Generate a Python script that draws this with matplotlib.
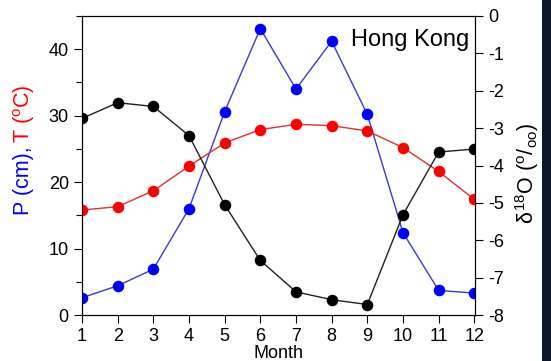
import matplotlib.pyplot as plt
from matplotlib.patches import Rectangle
from matplotlib.ticker import MultipleLocator

plt.rcParams['font.family'] = ['Liberation Sans', 'DejaVu Sans']
plt.rcParams['mathtext.fontset'] = 'custom'
plt.rcParams['mathtext.rm'] = 'Liberation Sans'
plt.rcParams['mathtext.it'] = 'Liberation Sans'
plt.rcParams['axes.unicode_minus'] = False

# Monthly climate record, Hong Kong
months = [1, 2, 3, 4, 5, 6, 7, 8, 9, 10, 11, 12]
precip_cm = [2.6, 4.4, 6.9, 16.0, 30.6, 43.1, 34.0, 41.2, 30.2, 12.4, 3.7, 3.3]
temp_c = [15.8, 16.3, 18.7, 22.4, 25.9, 27.9, 28.7, 28.5, 27.7, 25.2, 21.6, 17.4]
d18o = [-2.74, -2.32, -2.42, -3.20, -5.05, -6.54, -7.38, -7.59, -7.72, -5.32, -3.64, -3.56]
station = "Hong Kong"

fig = plt.figure(figsize=(5.51, 3.61), dpi=100)
ax = fig.add_axes([82 / 551, 1 - 315 / 361, (475 - 82) / 551, (315 - 16) / 361])

ms = 7.3
ax.plot(months, precip_cm, color='#3a3ad0', lw=1.0, marker='o', ms=ms,
        mfc='#0000ff', mec='#0000ff', zorder=3)
ax.plot(months, temp_c, color='#e03030', lw=1.0, marker='o', ms=ms,
        mfc='#ff0000', mec='#ff0000', zorder=3)
ax.set_xlim(1, 12.02)
ax.set_ylim(0, 45)
ax.set_xticks(months)
ax.yaxis.set_major_locator(MultipleLocator(10))
ax.yaxis.set_minor_locator(MultipleLocator(5))
ax.tick_params(axis='both', which='major', labelsize=13, direction='out', length=6, width=0.8)
ax.tick_params(axis='y', which='minor', direction='out', length=4, width=0.8)
ax.set_xlabel("Month", fontsize=13, labelpad=0)

ax2 = ax.twinx()
ax2.plot(months, d18o, color='#202020', lw=1.0, marker='o', ms=ms,
         mfc='black', mec='black', zorder=3)
ax2.set_ylim(-8, 0)
ax2.yaxis.set_major_locator(MultipleLocator(1))
ax2.tick_params(axis='y', labelsize=13, direction='out', length=6, width=0.8)

ax.text(0.985, 0.955, station, transform=ax.transAxes, ha='right', va='top',
        fontsize=17)

# two-colour left axis label
fig.text(24 / 551, 1 - 215 / 361, "P (cm),", color='#0000ff', fontsize=15.5,
         rotation=90, ha='center', va='bottom')
fig.text(24 / 551, 1 - 143 / 361, r"T ($^{\rm o}$C)", color='#ff0000', fontsize=15.5,
         rotation=90, ha='center', va='bottom')

fig.text(527 / 551, 1 - 173 / 361, r"$\delta^{\rm 18}$O ($^{\rm o}$/$_{\rm oo}$)",
         fontsize=15.5, rotation=90, ha='center', va='center')

fig.patches.append(Rectangle((542 / 551, 0), 9 / 551, 1, transform=fig.transFigure,
                             facecolor='#0b1627', edgecolor='none', zorder=-1))

fig.savefig("out.png", dpi=100)
